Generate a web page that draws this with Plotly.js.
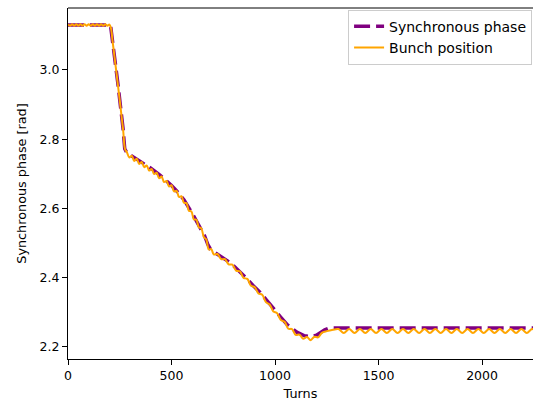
<!DOCTYPE html>
<html>
<head>
<meta charset="utf-8">
<script src="https://cdn.plot.ly/plotly-3.0.1.min.js"></script>
<style>html,body{margin:0;padding:0;background:#fff;}#chart{width:533px;height:401px;}</style>
</head>
<body>
<div id="chart"></div>
<script>
// Synchronous phase (purple dashed)
const syncTurns = [0, 200, 206, 212, 240, 266, 274, 285, 300, 330, 364, 400, 444, 480, 500, 525, 560, 605, 640, 660, 675, 688, 705, 734, 770, 800, 831, 870, 900, 928, 960, 990, 1024, 1060, 1105, 1140, 1170, 1200, 1217, 1240, 1262, 2246];
const syncPhase = [3.130, 3.130, 3.126, 3.100, 2.965, 2.830, 2.772, 2.760, 2.754, 2.743, 2.731, 2.716, 2.696, 2.678, 2.666, 2.650, 2.625, 2.580, 2.542, 2.520, 2.496, 2.482, 2.474, 2.463, 2.448, 2.434, 2.417, 2.393, 2.373, 2.357, 2.334, 2.311, 2.288, 2.263, 2.242, 2.232, 2.229, 2.233, 2.241, 2.249, 2.254, 2.254];

// Bunch position (orange solid)
const bunchTurns = [
  0, 10, 20, 30, 40, 50, 60, 70, 80, 90, 100, 110, 120, 130, 140, 150, 160, 170, 180, 190, 200,
  207, 215, 240, 266, 276,
  284, 296, 308, 320, 332, 344, 356, 368, 380, 392, 404, 416, 428, 440, 452, 464, 476, 488, 500, 512, 524, 536, 548, 560, 572, 584, 596, 608, 620, 632, 644, 656, 668, 680, 692, 704,
  722, 740, 758, 776, 794, 812, 830, 848, 866, 884, 902, 920, 938, 956, 974, 992, 1010, 1028, 1046, 1064, 1082, 1100, 1118, 1136, 1154, 1172, 1190, 1208, 1226, 1250, 1280,
  1306, 1332, 1358, 1384, 1410, 1436, 1462, 1488, 1514, 1540, 1566, 1592, 1618, 1644, 1670, 1696, 1722, 1748, 1774, 1800, 1826, 1852, 1878, 1904, 1930, 1956, 1982, 2008, 2034, 2060, 2086, 2112, 2138, 2164, 2190, 2216, 2242, 2268
];
const bunchPos = [
  3.131, 3.128, 3.132, 3.128, 3.132, 3.128, 3.132, 3.128, 3.132, 3.128, 3.132, 3.128, 3.132, 3.128, 3.132, 3.128, 3.132, 3.128, 3.132, 3.128, 3.131,
  3.122, 3.085, 2.962, 2.828, 2.770,
  2.763, 2.747, 2.752, 2.737, 2.743, 2.728, 2.734, 2.719, 2.724, 2.709, 2.714, 2.699, 2.703, 2.687, 2.692, 2.676, 2.679, 2.663, 2.667, 2.649, 2.651, 2.633, 2.635, 2.616, 2.615, 2.593, 2.591, 2.568, 2.567, 2.545, 2.542, 2.517, 2.510, 2.481, 2.482, 2.467,
  2.468, 2.453, 2.453, 2.438, 2.437, 2.420, 2.418, 2.399, 2.396, 2.376, 2.372, 2.354, 2.350, 2.329, 2.322, 2.302, 2.297, 2.277, 2.272, 2.252, 2.251, 2.234, 2.235, 2.223, 2.228, 2.219, 2.229, 2.227, 2.240, 2.245, 2.249,
  2.251, 2.240, 2.251, 2.240, 2.251, 2.240, 2.251, 2.240, 2.251, 2.240, 2.251, 2.240, 2.251, 2.240, 2.251, 2.240, 2.251, 2.240, 2.251, 2.240, 2.251, 2.240, 2.251, 2.240, 2.251, 2.240, 2.251, 2.240, 2.251, 2.240, 2.251, 2.240, 2.251, 2.240, 2.251, 2.240, 2.251, 2.240
];

const xTicks = [0, 500, 1000, 1500, 2000];
const xTickLabels = ['0', '500', '1000', '1500', '2000'];
const yTicks = [2.2, 2.4, 2.6, 2.8, 3.0];
const yTickLabels = ['2.2', '2.4', '2.6', '2.8', '3.0'];

const FONT = 'DejaVu Sans, sans-serif';

const traces = [
  {
    x: syncTurns, y: syncPhase, type: 'scatter', mode: 'lines',
    name: 'Synchronous phase',
    line: {color: '#800080', width: 3.5, dash: '16px,6px'}
  },
  {
    x: bunchTurns, y: bunchPos, type: 'scatter', mode: 'lines',
    name: 'Bunch position',
    line: {color: '#FFA500', width: 2, shape: 'spline', smoothing: 1}
  }
];

const layout = {
  width: 533, height: 401,
  margin: {l: 68, r: 0, t: 8, b: 42, pad: 0},
  paper_bgcolor: '#ffffff', plot_bgcolor: '#ffffff',
  font: {family: FONT, color: '#000000', size: 12.5},
  showlegend: true,
  legend: {
    x: 0.998, xanchor: 'right', y: 0.995, yanchor: 'top',
    font: {family: FONT, size: 14, color: '#000000'},
    bgcolor: 'rgba(255,255,255,0.8)', bordercolor: '#cccccc', borderwidth: 1,
    tracegroupgap: 0
  },
  xaxis: {
    range: [0, 2246], tickmode: 'array', tickvals: xTicks, ticktext: xTickLabels,
    ticks: 'outside', ticklen: 5, tickwidth: 1, tickcolor: '#000',
    showline: true, linecolor: '#000', linewidth: 1, mirror: false,
    showgrid: false, zeroline: false, automargin: false,
    tickfont: {family: FONT, size: 12.5, color: '#000'},
    title: {text: 'Turns', standoff: 10, font: {family: FONT, size: 12.8, color: '#000'}}
  },
  yaxis: {
    range: [2.1645, 3.179], tickmode: 'array', tickvals: yTicks, ticktext: yTickLabels,
    ticks: 'outside', ticklen: 5, tickwidth: 1, tickcolor: '#000',
    showline: true, linecolor: '#000', linewidth: 1, mirror: false,
    showgrid: false, zeroline: false, automargin: false,
    tickfont: {family: FONT, size: 12.5, color: '#000'},
    title: {text: 'Synchronous phase [rad]', standoff: 10, font: {family: FONT, size: 12.8, color: '#000'}}
  },
  shapes: [
    {type: 'line', xref: 'paper', yref: 'paper', x0: 0, x1: 1, y0: 1, y1: 1, line: {color: '#000', width: 1}}
  ]
};

Plotly.newPlot('chart', traces, layout, {staticPlot: true, displayModeBar: false});
</script>
</body>
</html>
